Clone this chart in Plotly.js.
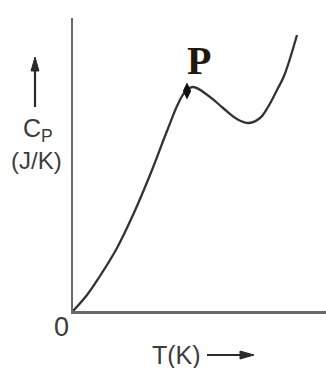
<!DOCTYPE html>
<html>
<head>
<meta charset="utf-8">
<script src="https://cdn.plot.ly/plotly-3.0.1.min.js"></script>
<style>
html,body{margin:0;padding:0;background:#fff;}
#chart{width:326px;height:368px;}
</style>
</head>
<body>
<div id="chart"></div>
<script>
// Temperature (arbitrary units) and heat capacity (arbitrary units)
var temperature = [0, 14, 27, 44, 60, 77, 94, 105, 112, 120, 137, 150, 164, 176, 187, 195, 204, 211, 224];
var heatCapacity = [0, 16, 35, 63, 96, 136, 180, 207, 219, 224, 214, 203, 192, 188, 193, 204, 221, 235, 276];
var pointP = {t: [114], cp: [220], label: ["P"]};

var W = 326, H = 368;
var L = 73, T = 18, R = 0, B = 57;
var pw = W - L - R, ph = H - T - B;
function px(x){ return (x - L) / pw; }
function py(y){ return (H - B - y) / ph; }
function pt(x, y){ return px(x) + ',' + py(y); }

var traces = [
  {
    x: temperature, y: heatCapacity, type: 'scatter', mode: 'lines',
    line: {color: '#333333', width: 2.3, shape: 'spline', smoothing: 1.1},
    hoverinfo: 'skip', showlegend: false
  },
  {
    x: pointP.t, y: pointP.cp, type: 'scatter', mode: 'markers',
    marker: {symbol: 'diamond-tall', size: 12, color: '#111111'},
    hoverinfo: 'skip', showlegend: false
  }
];

var textColor = '#3c3c3c';
var sans = 'Liberation Sans, Arial, sans-serif';
var arrowColor = '#2a2a2a';

var layout = {
  width: W, height: H,
  margin: {l: L, r: R, t: T, b: B, pad: 0},
  paper_bgcolor: '#ffffff', plot_bgcolor: '#ffffff',
  showlegend: false,
  xaxis: {range: [0, pw], showline: true, linecolor: '#6a6a6a', linewidth: 2.5,
          showticklabels: false, ticks: '', showgrid: false, zeroline: false, fixedrange: true},
  yaxis: {range: [0, ph], showline: true, linecolor: '#6a6a6a', linewidth: 2.5,
          showticklabels: false, ticks: '', showgrid: false, zeroline: false, fixedrange: true},
  shapes: [
    {type: 'line', xref: 'paper', yref: 'paper', x0: px(35), y0: py(107), x1: px(35), y1: py(68),
     line: {color: arrowColor, width: 2.2}},
    {type: 'path', xref: 'paper', yref: 'paper',
     path: 'M' + pt(31, 71) + ' L' + pt(39, 71) + ' L' + pt(35, 57) + ' Z',
     fillcolor: arrowColor, line: {color: arrowColor, width: 1}},
    {type: 'line', xref: 'paper', yref: 'paper', x0: px(207), y0: py(355), x1: px(243), y1: py(355),
     line: {color: arrowColor, width: 2.2}},
    {type: 'path', xref: 'paper', yref: 'paper',
     path: 'M' + pt(240, 351) + ' L' + pt(240, 359) + ' L' + pt(254, 355) + ' Z',
     fillcolor: arrowColor, line: {color: arrowColor, width: 1}}
  ],
  annotations: [
    {xref: 'paper', yref: 'paper', x: px(199), y: py(61), text: '<b>' + pointP.label[0] + '</b>', showarrow: false,
     xanchor: 'center', yanchor: 'middle', font: {family: 'Liberation Serif, Times New Roman, serif', size: 40, color: '#23170c'}},
    {xref: 'paper', yref: 'paper', x: px(38), y: py(130), text: 'C<sub>P</sub>', showarrow: false,
     xanchor: 'center', yanchor: 'middle', font: {family: sans, size: 25, color: textColor}},
    {xref: 'paper', yref: 'paper', x: px(36), y: py(160), text: '(J/K)', showarrow: false,
     xanchor: 'center', yanchor: 'middle', font: {family: sans, size: 24, color: textColor}},
    {xref: 'paper', yref: 'paper', x: px(61), y: py(327), text: '0', showarrow: false,
     xanchor: 'center', yanchor: 'middle', font: {family: sans, size: 27, color: textColor}},
    {xref: 'paper', yref: 'paper', x: px(176), y: py(355), text: 'T(K)', showarrow: false,
     xanchor: 'center', yanchor: 'middle', font: {family: sans, size: 25, color: textColor}}
  ]
};

Plotly.newPlot('chart', traces, layout, {staticPlot: true, displayModeBar: false});
</script>
</body>
</html>
